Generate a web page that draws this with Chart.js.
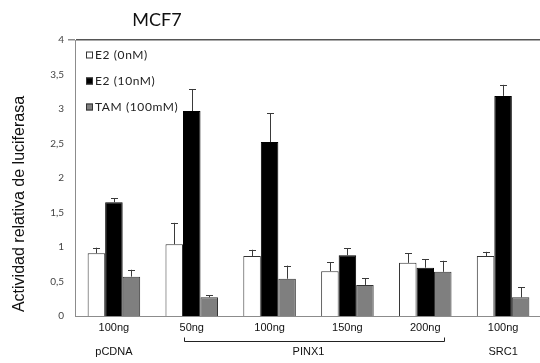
<!DOCTYPE html>
<html>
<head>
<meta charset="utf-8">
<script src="https://cdn.jsdelivr.net/npm/chart.js@4.4.1/dist/chart.umd.min.js"></script>
<style>
  html, body { margin: 0; padding: 0; background: #fff; }
  #wrap { width: 540px; height: 363px; overflow: hidden; position: relative; }
  canvas { display: block; }
</style>
</head>
<body>
<div id="wrap"><canvas id="c" width="546" height="363"></canvas></div>
<script>
// Luciferase reporter assay in MCF7 cells
const chartTitle = 'MCF7';
const yTitle = 'Actividad relativa de luciferasa';
const doses = ['100ng', '50ng', '100ng', '150ng', '200ng', '100ng'];
const groupNames = ['pCDNA', 'PINX1', 'SRC1'];
const groupFirst = [0, 1, 5];
const groupLast = [0, 4, 5];

const seriesNames = ['E2 (0nM)', 'E2 (10nM)', 'TAM (100mM)'];
const e2zero = [0.91, 1.04, 0.87, 0.65, 0.77, 0.87];
const e2zeroErr = [0.08, 0.31, 0.09, 0.13, 0.14, 0.06];
const e2ten = [1.65, 2.97, 2.52, 0.88, 0.70, 3.19];
const e2tenErr = [0.06, 0.32, 0.42, 0.10, 0.12, 0.16];
const tam = [0.57, 0.27, 0.54, 0.45, 0.64, 0.27];
const tamErr = [0.10, 0.03, 0.19, 0.10, 0.16, 0.15];

const fills = ['#ffffff', '#000000', '#7f7f7f'];
const borders = ['#333333', '#000000', '#333333'];

function makeSet(i, data, err) {
  return {
    label: seriesNames[i],
    data: data,
    errors: err,
    backgroundColor: fills[i],
    borderColor: borders[i],
    borderWidth: 1,
    borderSkipped: 'bottom',
    categoryPercentage: 0.675,
    barPercentage: 1.0
  };
}

// vertical error bars with a small cap above each bar
const errorBars = {
  id: 'errorBars',
  afterDatasetsDraw(chart) {
    const ctx = chart.ctx;
    const ys = chart.scales.y;
    ctx.save();
    ctx.strokeStyle = '#3a3a3a';
    ctx.lineWidth = 1;
    chart.data.datasets.forEach((ds, i) => {
      const meta = chart.getDatasetMeta(i);
      meta.data.forEach((bar, j) => {
        const top = ys.getPixelForValue(ds.data[j] + ds.errors[j]);
        const x = Math.round(bar.x) + 0.5;
        ctx.beginPath();
        ctx.moveTo(x, bar.y);
        ctx.lineTo(x, top);
        ctx.moveTo(x - 3.5, Math.round(top) + 0.5);
        ctx.lineTo(x + 3.5, Math.round(top) + 0.5);
        ctx.stroke();
      });
    });
    ctx.restore();
  }
};

// legend inside the plot, titles, group labels and PINX1 bracket
const decorations = {
  id: 'decorations',
  afterDraw(chart) {
    const ctx = chart.ctx;
    const area = chart.chartArea;
    const xs = chart.scales.x;
    ctx.save();

    // chart title
    ctx.fillStyle = '#111';
    ctx.font = '18px Lato, "Open Sans", sans-serif';
    ctx.textAlign = 'center';
    ctx.textBaseline = 'middle';
    ctx.fillText(chartTitle, area.left + 82, 20);

    // y axis title, rotated
    ctx.save();
    ctx.translate(20, 204);
    ctx.rotate(-Math.PI / 2);
    ctx.font = '16px "Liberation Sans", Arial, sans-serif';
    ctx.fillStyle = '#111';
    ctx.fillText(yTitle, 0, 0);
    ctx.restore();

    // legend
    ctx.font = '12px Lato, "Open Sans", sans-serif';
    ctx.letterSpacing = '0.6px';
    ctx.textAlign = 'left';
    chart.data.datasets.forEach((ds, i) => {
      const y = area.top + 15 + i * 26;
      const bx = area.left + 11;
      ctx.fillStyle = ds.backgroundColor;
      ctx.fillRect(bx, y - 3.5, 7, 7);
      ctx.strokeStyle = '#333';
      ctx.lineWidth = 1;
      ctx.strokeRect(bx + 0.5, y - 3.5 + 0.5, 6, 6);
      ctx.fillStyle = '#222';
      ctx.fillText(ds.label, bx + 9, y + 0.5);
    });
    ctx.letterSpacing = '0px';

    // group names under the dose labels
    ctx.font = '11px "Liberation Sans", Arial, sans-serif';
    ctx.textAlign = 'center';
    ctx.fillStyle = '#111';
    groupNames.forEach((name, g) => {
      const cx = (xs.getPixelForValue(groupFirst[g]) + xs.getPixelForValue(groupLast[g])) / 2;
      ctx.fillText(name, cx, 352);
    });

    // bracket spanning the PINX1 doses
    const bl = xs.getPixelForValue(groupFirst[1]) - 8;
    const br = xs.getPixelForValue(groupLast[1]) + 19;
    const by = 341.5;
    ctx.strokeStyle = '#222';
    ctx.lineWidth = 1;
    ctx.beginPath();
    ctx.moveTo(Math.round(bl) + 0.5, by - 4);
    ctx.lineTo(Math.round(bl) + 0.5, by);
    ctx.lineTo(Math.round(br) + 0.5, by);
    ctx.lineTo(Math.round(br) + 0.5, by - 4);
    ctx.stroke();

    ctx.restore();
  }
};

new Chart(document.getElementById('c'), {
  type: 'bar',
  data: {
    labels: doses,
    datasets: [
      makeSet(0, e2zero, e2zeroErr),
      makeSet(1, e2ten, e2tenErr),
      makeSet(2, tam, tamErr)
    ]
  },
  options: {
    responsive: false,
    animation: false,
    layout: { padding: { top: 40, right: 4, left: 0, bottom: 0 } },
    plugins: {
      legend: { display: false },
      title: { display: false },
      tooltip: { enabled: false }
    },
    scales: {
      x: {
        offset: true,
        grid: { display: false, drawTicks: false },
        border: { display: true, color: '#8c8c8c', width: 1 },
        ticks: {
          padding: 5,
          color: '#111',
          font: { family: '"Liberation Sans", Arial, sans-serif', size: 11 },
          maxRotation: 0,
          autoSkip: false
        },
        afterFit(s) { s.height = 47; }
      },
      y: {
        min: 0,
        max: 4,
        ticks: {
          stepSize: 0.5,
          padding: 4,
          color: '#444',
          font: { family: 'Lato, "Open Sans", sans-serif', size: 10 },
          callback: v => String(v).replace('.', ',')
        },
        grid: {
          color: c => (c.tick && c.tick.value === 4 ? '#555555' : 'rgba(0,0,0,0)'),
          lineWidth: c => (c.tick && c.tick.value === 4 ? 1.5 : 0),
          tickColor: '#8c8c8c',
          tickLength: 7,
          drawTicks: true
        },
        border: { display: true, color: '#8c8c8c', width: 1 },
        title: { display: false },
        afterFit(s) { s.width = 75; }
      }
    }
  },
  plugins: [errorBars, decorations]
});
</script>
</body>
</html>
